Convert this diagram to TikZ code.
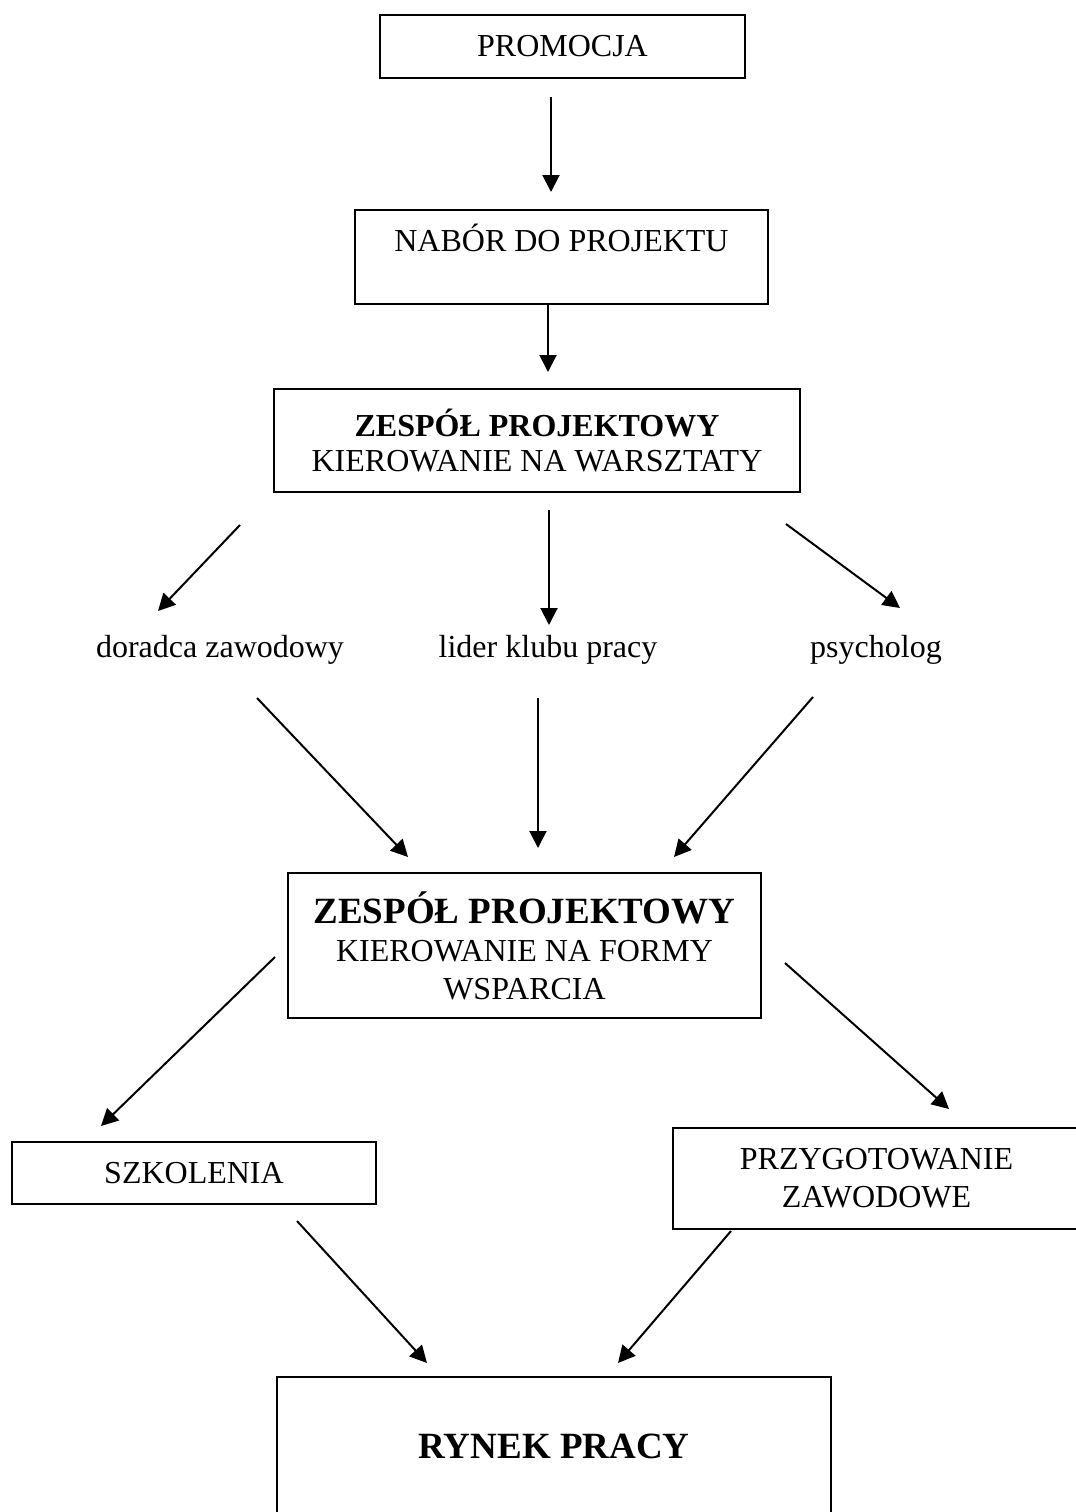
\documentclass[tikz,border=0pt]{standalone}
\usepackage{fontspec}
\setmainfont{Liberation Serif}
\usetikzlibrary{arrows.meta}
\tikzstyle{frame} = [rectangle, draw, line width=1pt, inner sep=0pt, align=center, font=\fontsize{16}{19}\selectfont]
\tikzstyle{role} = [inner sep=0pt, font=\fontsize{16}{19}\selectfont]
\tikzstyle{link} = [line width=1pt, -{Triangle[length=8.5pt,width=8.5pt]}]

\begin{document}
\begin{tikzpicture}[x=0.5pt, y=-0.5pt]
  \useasboundingbox (0,0) rectangle (1076,1512);
  \node (promo) [frame, minimum width=182.5pt, minimum height=31.5pt] at (562.5,46.5) {PROMOCJA};
  \node (nabor) [frame, minimum width=206.5pt, minimum height=47pt] at (561.5,257) {NAB\'OR DO PROJEKTU\\ \mbox{}};
  \node (team1) [frame, minimum width=263pt, minimum height=51.5pt] at (537,440.5) {\textbf{ZESPÓŁ PROJEKTOWY}\\[-1.5pt] KIEROWANIE NA WARSZTATY};
  \node (advisor) [role] at (220,650) {doradca zawodowy};
  \node (leader) [role] at (548,650) {lider klubu pracy};
  \node (psych) [role] at (876,650) {psycholog};
  \node (team2) [frame, minimum width=236.5pt, minimum height=72.5pt] at (524.5,945.5) {{\fontsize{18.5}{20}\selectfont\bfseries ZESPÓŁ PROJEKTOWY}\\ KIEROWANIE NA FORMY\\ WSPARCIA};
  \node (train) [frame, minimum width=182pt, minimum height=31pt] at (194,1173) {SZKOLENIA};
  \node (prep) [frame, minimum width=203.5pt, minimum height=50.5pt] at (876.5,1178.5) {PRZYGOTOWANIE\\ ZAWODOWE};
  \node (market) [frame, minimum width=277pt, minimum height=69pt] at (554,1446) {\fontsize{18.5}{20}\selectfont\bfseries RYNEK PRACY};
  % free ends of the arrows
  \coordinate (promo-out) at (551,97);
  \coordinate (nabor-in) at (551,192);
  \coordinate (team1-in) at (548,372);
  \coordinate (team1-l) at (240,525);
  \coordinate (team1-m) at (549,510);
  \coordinate (team1-r) at (786,524);
  \coordinate (advisor-in) at (158,611);
  \coordinate (leader-in) at (549,625);
  \coordinate (psych-in) at (900,608);
  \coordinate (advisor-out) at (257,698);
  \coordinate (leader-out) at (538,698);
  \coordinate (psych-out) at (813,697);
  \coordinate (team2-l) at (408,857);
  \coordinate (team2-m) at (538,848);
  \coordinate (team2-r) at (674,857);
  \coordinate (team2-ol) at (275,957);
  \coordinate (team2-or) at (785,963);
  \coordinate (train-in) at (101,1126);
  \coordinate (prep-in) at (949,1109);
  \coordinate (train-out) at (297,1221);
  \coordinate (prep-out) at (731,1231);
  \coordinate (market-l) at (427,1363);
  \coordinate (market-r) at (618,1363);
  \draw [link] (promo-out) -- (nabor-in);
  \draw [link] (nabor.south -| team1-in) -- (team1-in);
  \draw [link] (team1-l) -- (advisor-in);
  \draw [link] (team1-m) -- (leader-in);
  \draw [link] (team1-r) -- (psych-in);
  \draw [link] (advisor-out) -- (team2-l);
  \draw [link] (leader-out) -- (team2-m);
  \draw [link] (psych-out) -- (team2-r);
  \draw [link] (team2-ol) -- (train-in);
  \draw [link] (team2-or) -- (prep-in);
  \draw [link] (train-out) -- (market-l);
  \draw [link] (prep-out) -- (market-r);
\end{tikzpicture}
\end{document}
